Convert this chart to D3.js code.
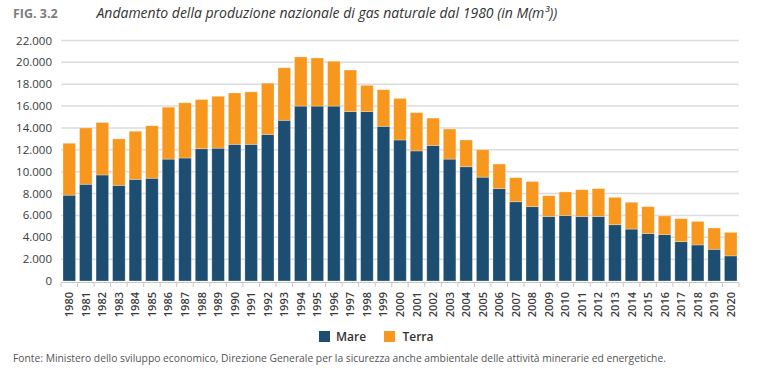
<!DOCTYPE html>
<html><head><meta charset="utf-8">
<script src="https://cdn.jsdelivr.net/npm/d3@7"></script>
<style>body{margin:0;background:#fff;}svg{display:block;font-family:"Open Sans",sans-serif;}</style>
</head><body>
<svg id="c" width="760" height="378"></svg>
<script>
const years = d3.range(1980, 2021).map(String);
const totals = [12600,14000,14500,13000,13700,14200,15900,16300,16600,16900,17200,17300,18100,19500,20500,20400,20100,19300,17900,17500,16700,15400,14900,13900,12900,12000,10700,9450,9100,7800,8150,8350,8450,7650,7200,6800,5950,5700,5450,4850,4450];
const mare = [7850,8850,9700,8750,9300,9400,11150,11250,12100,12150,12500,12500,13400,14700,16000,16000,16000,15500,15500,14150,12900,11900,12400,11150,10450,9500,8450,7250,6800,5900,6000,5900,5900,5150,4750,4350,4250,3600,3300,2900,2300];
const terra = totals.map((t,i)=>t-mare[i]);
const seriesNames = ["Mare","Terra"];
const colors = ["#1d4e72","#f7971e"];
const yTicks = d3.range(0, 22001, 2000);

const svg = d3.select("#c");
const x = d3.scaleBand().domain(years).range([61,739]).paddingInner(0.24).paddingOuter(0.12);
const y = d3.scaleLinear().domain([0,22000]).range([281,40.5]);
const fmt = v => d3.format(",")(v).replace(/,/g,".");

// gridlines
svg.append("g").selectAll("line").data(yTicks.filter(v=>v>0)).join("line")
  .attr("x1",61).attr("x2",739).attr("y1",d=>y(d)).attr("y2",d=>y(d))
  .attr("stroke","#dcdcdc").attr("stroke-width",1.5);

// y labels
svg.append("g").selectAll("text").data(yTicks).join("text")
  .attr("x",52).attr("y",d=>y(d)).attr("dy","0.35em").attr("text-anchor","end")
  .attr("font-size",11.5).attr("fill","#3a3a3a").text(fmt);

// stacked data
const rows = years.map((yr,i)=>({year:yr, Mare:mare[i], Terra:terra[i]}));
const stack = d3.stack().keys(seriesNames)(rows);
svg.append("g").selectAll("g").data(stack).join("g")
  .attr("fill",(d,i)=>colors[i])
  .selectAll("rect").data(d=>d).join("rect")
  .attr("x",d=>x(d.data.year)).attr("width",x.bandwidth())
  .attr("y",d=>y(d[1])).attr("height",d=>y(d[0])-y(d[1]))
  .attr("stroke","#ffffff").attr("stroke-opacity",0.35).attr("stroke-width",0.8);

// x axis baseline and ticks
const ax = svg.append("g");
ax.append("line").attr("x1",61).attr("x2",739).attr("y1",282.5).attr("y2",282.5)
  .attr("stroke","#c8c8c8").attr("stroke-width",1.2);
const step = x.step();
const edges = years.map(yr=>x(yr)-(step-x.bandwidth())/2).concat([739]);
ax.selectAll("line.t").data(edges).join("line").attr("class","t")
  .attr("x1",d=>d).attr("x2",d=>d).attr("y1",282.5).attr("y2",287)
  .attr("stroke","#c8c8c8").attr("stroke-width",1);
ax.selectAll("text").data(years).join("text")
  .attr("transform",d=>`translate(${x(d)+x.bandwidth()/2+4},292) rotate(-90)`)
  .attr("text-anchor","end").attr("font-size",11).attr("font-weight",600)
  .attr("fill","#3a3a3a").text(d=>d);

// legend
const lg = svg.append("g");
const legendPos = [{x:319,tx:336},{x:384,tx:402.5}];
seriesNames.forEach((n,i)=>{
  lg.append("rect").attr("x",legendPos[i].x).attr("y",331).attr("width",11).attr("height",11).attr("fill",colors[i]);
  lg.append("text").attr("x",legendPos[i].tx).attr("y",341).attr("font-size",12).attr("font-weight",600)
    .attr("fill","#333").text(n);
});

// title
svg.append("text").attr("x",13).attr("y",18).attr("font-size",12.5).attr("font-weight",700)
  .attr("fill","#7d7d7d").text("FIG. 3.2");
svg.append("text").attr("x",96.5).attr("y",18).attr("font-size",14).attr("font-style","italic")
  .attr("fill","#333").text("Andamento della produzione nazionale di gas naturale dal 1980 (in M(m³))");

// source
svg.append("text").attr("x",13).attr("y",362).attr("font-size",10.3).attr("fill","#555")
  .text("Fonte: Ministero dello sviluppo economico, Direzione Generale per la sicurezza anche ambientale delle attività minerarie ed energetiche.");
</script>
</body></html>
